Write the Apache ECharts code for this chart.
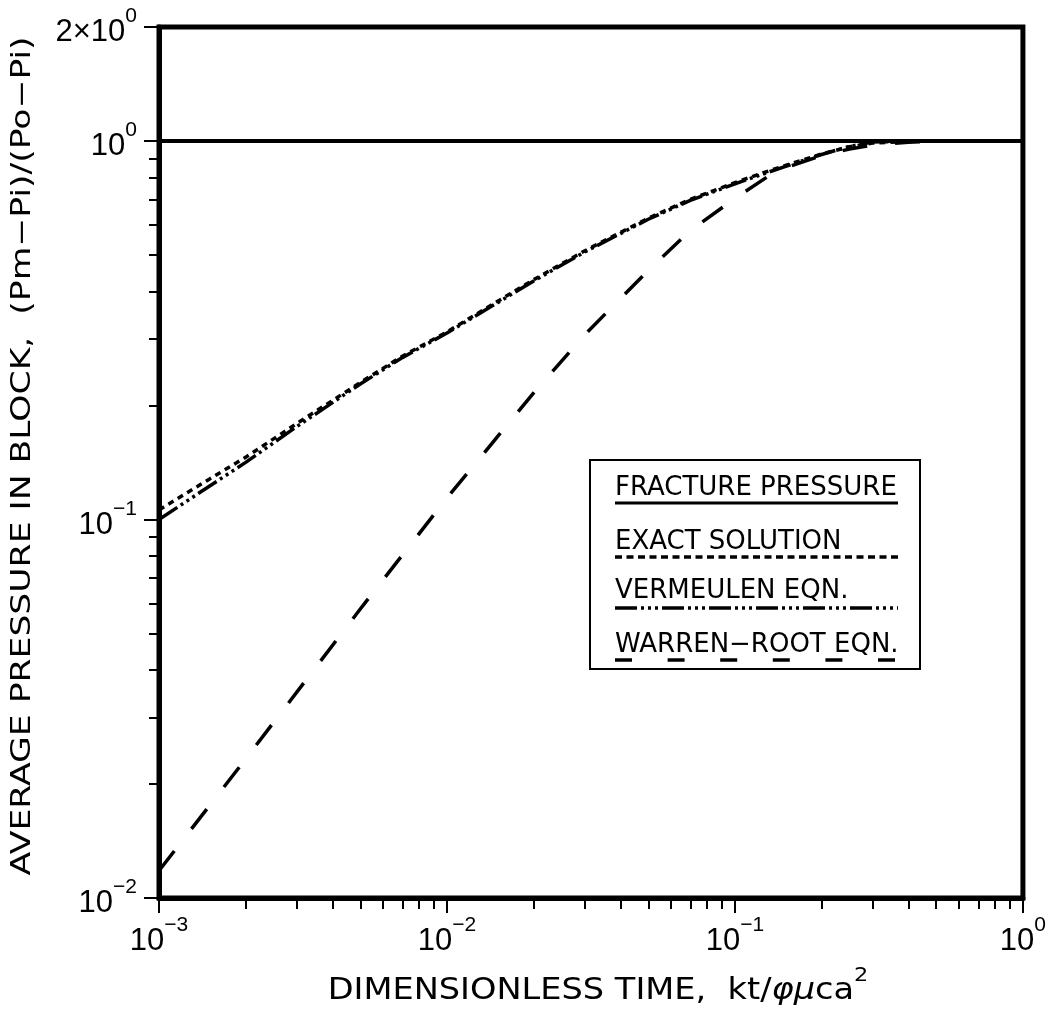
<!DOCTYPE html>
<html>
<head>
<meta charset="utf-8">
<script src="https://cdn.jsdelivr.net/npm/echarts@6/dist/echarts.min.js"></script>
<style>
  html, body { margin: 0; padding: 0; background: #fff; }
  #chart { width: 1049px; height: 1012px; }
</style>
</head>
<body>
<div id="chart"></div>
<script>
// Dimensionless time kt/(phi mu c a^2)
const timeBlock = [0.001, 0.0015, 0.002, 0.003, 0.005, 0.007, 0.01, 0.015, 0.02, 0.03, 0.05, 0.07, 0.1, 0.12, 0.15, 0.2, 0.25, 0.3, 0.4, 0.5, 0.7, 1];
// Average block pressure (Pm-Pi)/(Po-Pi)
const exactSolution = [0.106, 0.128, 0.146, 0.179, 0.230, 0.270, 0.313, 0.377, 0.430, 0.512, 0.625, 0.701, 0.776, 0.815, 0.862, 0.924, 0.965, 0.987, 0.997, 1.0, 1.0, 1.0];
const vermeulenEqn = [0.100, 0.1226, 0.1415, 0.1757, 0.228, 0.2677, 0.311, 0.374, 0.4266, 0.5085, 0.621, 0.697, 0.770, 0.809, 0.857, 0.921, 0.967, 0.993, 0.999, 1.0, 1.0, 1.0];

const timeWarrenRoot = [0.001, 0.002, 0.005, 0.01, 0.02, 0.03, 0.05, 0.07, 0.1, 0.13, 0.15, 0.2, 0.25, 0.3, 0.4, 0.5, 0.7, 1];
const warrenRootEqn = [0.0118, 0.0233, 0.058, 0.114, 0.216, 0.307, 0.455, 0.58, 0.705, 0.805, 0.85, 0.915, 0.952, 0.974, 0.992, 0.998, 1.0, 1.0];

const timeFracture = [0.001, 1];
const fracturePressure = [1, 1];

// Axis ticks and their labels (mantissa + superscript exponent)
const xMajorTicks = [0.001, 0.01, 0.1, 1];
const xTickMantissas = ['10', '10', '10', '10'];
const xTickExponents = ['−3', '−2', '−1', '0'];
const xMinorTicks = [0.002, 0.003, 0.004, 0.005, 0.006, 0.007, 0.008, 0.009,
                     0.02, 0.03, 0.04, 0.05, 0.06, 0.07, 0.08, 0.09,
                     0.2, 0.3, 0.4, 0.5, 0.6, 0.7, 0.8, 0.9];
const yMajorTicks = [0.01, 0.1, 1, 2];
const yTickMantissas = ['10', '10', '10', '2×10'];
const yTickExponents = ['−2', '−1', '0', '0'];
const yMinorTicks = [0.02, 0.03, 0.04, 0.05, 0.06, 0.07, 0.08, 0.09,
                     0.2, 0.3, 0.4, 0.5, 0.6, 0.7, 0.8, 0.9];

const seriesNames = ['FRACTURE PRESSURE', 'EXACT SOLUTION', 'VERMEULEN EQN.', 'WARREN−ROOT EQN.'];

const zip = (xs, ys) => xs.map((x, i) => [x, ys[i]]);

function tickFormatter(values, mantissas, exponents) {
  return function (v) {
    const i = values.findIndex(t => Math.abs(Math.log10(t) - Math.log10(v)) < 1e-6);
    if (i < 0) return '';
    return '{m|' + mantissas[i] + '}{e|' + exponents[i] + '}';
  };
}

const labelRich = {
  m: { fontFamily: 'Liberation Sans', fontSize: 31, lineHeight: 42, verticalAlign: 'bottom', color: '#000' },
  e: { fontFamily: 'Liberation Sans', fontSize: 21, lineHeight: 15, verticalAlign: 'top', color: '#000' }
};

const FONT = 'DejaVu Sans';
const INK = '#000';

const styles = {
  fracture: { color: INK, width: 4, type: 'solid' },
  exact: { color: INK, width: 3.5, type: [6, 5], cap: 'butt' },
  vermeulen: { color: INK, width: 3.5, type: [22, 4, 3, 4, 3, 4, 3, 4], cap: 'butt' },
  warrenRoot: { color: INK, width: 3.5, type: [25, 28], cap: 'butt' }
};

function lineSeries(name, data, lineStyle) {
  return {
    type: 'line', name, data, xAxisIndex: 0, yAxisIndex: 0,
    symbol: 'none', showSymbol: false, smooth: false, silent: true,
    lineStyle, clip: true, animation: false
  };
}

// Legend box drawn with underline samples beneath each caption
const legendLeft = 615, legendRight = 898;
const legendRows = [
  { text: seriesNames[0], textY: 488, lineY: 503, style: { lineWidth: 3, lineDash: null } },
  { text: seriesNames[1], textY: 542, lineY: 557, style: { lineWidth: 3.5, lineDash: [7, 4.5] } },
  { text: seriesNames[2], textY: 591, lineY: 608, style: { lineWidth: 3.5, lineDash: [22, 4, 3, 4, 3, 4, 3, 4] } },
  { text: seriesNames[3], textY: 645, lineY: 660, style: { lineWidth: 3.5, lineDash: [17, 35.6] } }
];

const legendGraphics = [{
  type: 'rect', shape: { x: 590, y: 460, width: 330, height: 209 },
  style: { fill: '#fff', stroke: INK, lineWidth: 2 }, z: 10
}];
legendRows.forEach(r => {
  legendGraphics.push({
    type: 'text', x: legendLeft, y: r.textY, z: 11,
    style: { text: r.text, font: '26px "' + FONT + '"', fill: INK, align: 'left', verticalAlign: 'middle', textAlign: 'left', textVerticalAlign: 'middle' }
  });
  legendGraphics.push({
    type: 'line', z: 11,
    shape: { x1: legendLeft, y1: r.lineY, x2: legendRight, y2: r.lineY },
    style: Object.assign({ stroke: INK, lineCap: 'butt' }, r.style)
  });
});

const titleGraphics = [
  {
    type: 'text', x: 598, y: 986, scaleX: 1.12,
    style: {
      text: '{t|DIMENSIONLESS TIME,  kt/}{g|φμ}{t|ca}{s|2}',
      align: 'center', verticalAlign: 'middle', textAlign: 'center', textVerticalAlign: 'middle',
      rich: {
        t: { fontFamily: FONT, fontSize: 30, lineHeight: 40, verticalAlign: 'bottom', fill: INK, color: INK },
        g: { fontFamily: FONT, fontSize: 30, fontStyle: 'italic', lineHeight: 40, verticalAlign: 'bottom', fill: INK, color: INK },
        s: { fontFamily: FONT, fontSize: 20, lineHeight: 20, verticalAlign: 'top', fill: INK, color: INK }
      }
    }
  },
  {
    type: 'text', x: 23, y: 456, rotation: Math.PI / 2, scaleX: 1.33,
    style: {
      text: 'AVERAGE PRESSURE IN BLOCK,  (Pm−Pi)/(Po−Pi)',
      font: '26px "' + FONT + '"', fill: INK,
      align: 'center', verticalAlign: 'middle', textAlign: 'center', textVerticalAlign: 'middle'
    }
  }
];

const chart = echarts.init(document.getElementById('chart'), null, { renderer: 'canvas' });

chart.setOption({
  backgroundColor: '#fff',
  animation: false,
  grid: {
    left: 159, right: 26, top: 27, bottom: 114,
    show: true, borderColor: INK, borderWidth: 5, backgroundColor: 'transparent'
  },
  xAxis: [
    {
      type: 'log', min: 0.001, max: 1, position: 'bottom',
      axisLine: { show: true, lineStyle: { color: INK, width: 5 } },
      axisTick: { show: true, customValues: xMajorTicks, length: 15, inside: false, lineStyle: { color: INK, width: 2 } },
      axisLabel: {
        show: true, customValues: xMajorTicks, margin: 17,
        formatter: tickFormatter(xMajorTicks, xTickMantissas, xTickExponents), rich: labelRich
      },
      splitLine: { show: false }, minorTick: { show: false }
    },
    {
      type: 'log', min: 0.001, max: 1, position: 'bottom',
      axisLine: { show: false },
      axisTick: { show: true, customValues: xMinorTicks, length: 11, inside: false, lineStyle: { color: INK, width: 2 } },
      axisLabel: { show: false },
      splitLine: { show: false }
    }
  ],
  yAxis: [
    {
      type: 'log', min: 0.01, max: 2, position: 'left',
      axisLine: { show: true, lineStyle: { color: INK, width: 5 } },
      axisTick: { show: true, customValues: yMajorTicks, length: 15, inside: false, lineStyle: { color: INK, width: 2 } },
      axisLabel: {
        show: true, customValues: yMajorTicks, margin: 22,
        formatter: tickFormatter(yMajorTicks, yTickMantissas, yTickExponents), rich: labelRich
      },
      splitLine: { show: false }, minorTick: { show: false }
    },
    {
      type: 'log', min: 0.01, max: 2, position: 'left',
      axisLine: { show: false },
      axisTick: { show: true, customValues: yMinorTicks, length: 10, inside: false, lineStyle: { color: INK, width: 2 } },
      axisLabel: { show: false },
      splitLine: { show: false }
    }
  ],
  series: [
    lineSeries(seriesNames[0], zip(timeFracture, fracturePressure), styles.fracture),
    lineSeries(seriesNames[1], zip(timeBlock, exactSolution), styles.exact),
    lineSeries(seriesNames[2], zip(timeBlock, vermeulenEqn), styles.vermeulen),
    lineSeries(seriesNames[3], zip(timeWarrenRoot, warrenRootEqn), styles.warrenRoot)
  ],
  graphic: legendGraphics.concat(titleGraphics)
});
</script>
</body>
</html>
